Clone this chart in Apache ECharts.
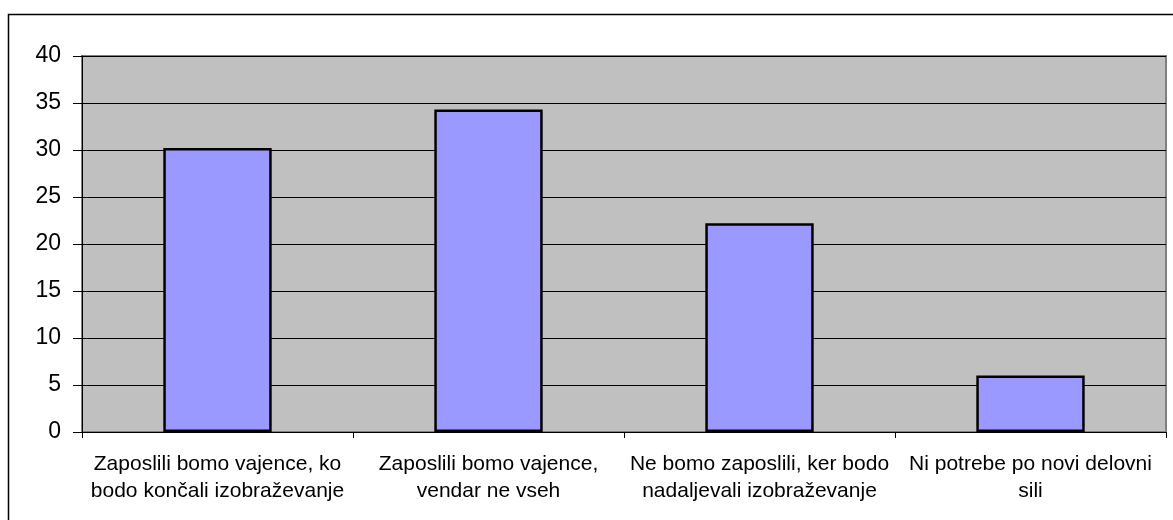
<!DOCTYPE html>
<html>
<head>
<meta charset="utf-8">
<script src="https://cdn.jsdelivr.net/npm/echarts@6/dist/echarts.min.js"></script>
<style>
  html, body { margin: 0; padding: 0; background: #fff; }
  #chart { width: 1173px; height: 520px; }
</style>
</head>
<body>
<div id="chart"></div>
<script>
// kategorije (odgovori) in deleži
const categories = [
  'Zaposlili bomo vajence, ko\nbodo končali izobraževanje',
  'Zaposlili bomo vajence,\nvendar ne vseh',
  'Ne bomo zaposlili, ker bodo\nnadaljevali izobraževanje',
  'Ni potrebe po novi delovni\nsili'
]
const values = [30.2, 34.3, 22.2, 6.0]
const yTicks = { min: 0, max: 40, interval: 5 }

const chart = echarts.init(document.getElementById('chart'))

chart.setOption({
  animation: false,
  textStyle: { fontFamily: 'Liberation Sans, Arial, sans-serif', color: '#000' },
  graphic: [
    {
      type: 'rect',
      shape: { x: 8.5, y: 14.5, width: 1300, height: 700 },
      style: { fill: null, stroke: '#000', lineWidth: 1.5 },
      silent: true,
      z: -10
    }
  ],
  grid: {
    left: 82,
    right: 7,
    top: 56,
    bottom: 88,
    show: true,
    backgroundColor: '#c0c0c0',
    borderColor: '#808080',
    borderWidth: 2
  },
  xAxis: {
    type: 'category',
    data: categories,
    boundaryGap: true,
    axisLine: { show: true, lineStyle: { color: '#000', width: 1 } },
    axisTick: { show: true, length: 6, alignWithLabel: false, lineStyle: { color: '#000' } },
    axisLabel: {
      interval: 0,
      color: '#000',
      fontSize: 21,
      lineHeight: 27,
      margin: 19,
      align: 'center'
    },
    splitLine: { show: false }
  },
  yAxis: {
    type: 'value',
    min: yTicks.min,
    max: yTicks.max,
    interval: yTicks.interval,
    axisLine: { show: true, lineStyle: { color: '#000', width: 1 } },
    axisTick: { show: true, length: 9, lineStyle: { color: '#000' } },
    axisLabel: { color: '#000', fontSize: 23, margin: 21 },
    splitLine: { show: true, lineStyle: { color: '#000', width: 1 } }
  },
  series: [
    {
      type: 'bar',
      data: values,
      barWidth: '40%',
      itemStyle: {
        color: '#9999ff',
        borderColor: '#000',
        borderWidth: 2.5
      }
    }
  ]
})
</script>
</body>
</html>
